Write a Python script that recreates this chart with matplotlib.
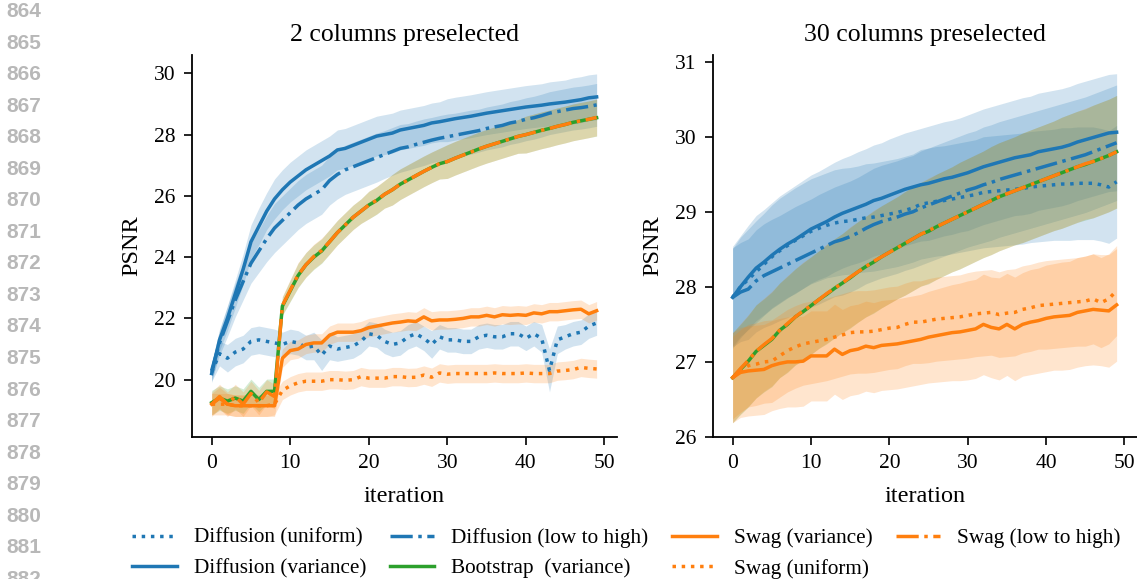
import numpy as np
import matplotlib.pyplot as plt

# ---------------------------
# DATA
# ---------------------------
iters = list(range(50))

# 2 columns preselected
diff_uni_L = [20.25, 20.85, 20.7, 20.9, 21.0, 21.25, 21.3, 21.25, 21.2, 21.15,
              21.25, 21.2, 21.05, 21.1, 20.8, 21.1, 21.0, 21.05, 21.1, 21.25,
              21.5, 21.45, 21.25, 21.15, 21.2, 21.4, 21.5, 21.35, 21.15, 21.4,
              21.3, 21.3, 21.25, 21.25, 21.4, 21.45, 21.4, 21.4, 21.5, 21.5,
              21.35, 21.5, 21.35, 20.3, 21.3, 21.4, 21.5, 21.55, 21.75, 21.85]
diff_var_L = [20.2, 21.3, 22.0, 22.8, 23.6, 24.5, 25.0, 25.5, 25.9, 26.2,
              26.45, 26.65, 26.85, 27.0, 27.15, 27.3, 27.5, 27.55, 27.65, 27.75,
              27.85, 27.95, 28.0, 28.05, 28.15, 28.2, 28.25, 28.3, 28.38, 28.42,
              28.47, 28.52, 28.56, 28.6, 28.65, 28.7, 28.74, 28.78, 28.82, 28.86,
              28.9, 28.93, 28.96, 29.0, 29.03, 29.06, 29.1, 29.14, 29.2, 29.23]
diff_lth_L = [20.3, 21.2, 21.9, 22.6, 23.2, 23.8, 24.2, 24.6, 24.95, 25.2,
              25.45, 25.7, 25.9, 26.05, 26.2, 26.5, 26.7, 26.85, 26.95, 27.05,
              27.15, 27.25, 27.35, 27.45, 27.55, 27.6, 27.68, 27.75, 27.82, 27.88,
              27.93, 27.98, 28.03, 28.08, 28.13, 28.2, 28.25, 28.3, 28.38, 28.43,
              28.5, 28.55, 28.62, 28.7, 28.75, 28.8, 28.85, 28.88, 28.92, 28.97]
boot_var_L = [19.25, 19.4, 19.3, 19.4, 19.3, 19.62, 19.35, 19.62, 19.62, 22.4,
              22.9, 23.4, 23.75, 24.0, 24.2, 24.5, 24.8, 25.05, 25.3, 25.5,
              25.7, 25.85, 26.05, 26.2, 26.38, 26.52, 26.66, 26.8, 26.93, 27.05,
              27.12, 27.23, 27.33, 27.43, 27.53, 27.62, 27.7, 27.78, 27.86, 27.94,
              28.0, 28.07, 28.14, 28.2, 28.27, 28.33, 28.4, 28.45, 28.5, 28.55]
swag_var_L = [19.2, 19.4, 19.2, 19.15, 19.15, 19.15, 19.15, 19.15, 19.15, 20.7,
              20.95, 21.0, 21.15, 21.2, 21.2, 21.45, 21.55, 21.55, 21.55, 21.6,
              21.7, 21.75, 21.8, 21.85, 21.88, 21.92, 21.9, 22.05, 21.92, 21.95,
              21.95, 21.97, 22.0, 22.05, 22.05, 22.1, 22.05, 22.12, 22.1, 22.12,
              22.1, 22.18, 22.15, 22.22, 22.22, 22.25, 22.28, 22.3, 22.15, 22.25]
swag_uni_L = [19.2, 19.2, 19.2, 19.15, 19.15, 19.15, 19.15, 19.15, 19.2, 19.65,
              19.8, 19.9, 19.95, 19.95, 19.95, 20.0, 20.0, 19.98, 20.0, 20.1,
              20.05, 20.05, 20.05, 20.1, 20.1, 20.07, 20.08, 20.15, 20.08, 20.22,
              20.18, 20.2, 20.2, 20.2, 20.2, 20.2, 20.22, 20.2, 20.2, 20.2,
              20.22, 20.2, 20.2, 20.2, 20.28, 20.3, 20.33, 20.4, 20.37, 20.35]
swag_lth_L = [19.2, 19.45, 19.2, 19.45, 19.2, 19.55, 19.25, 19.6, 19.45, 22.42,
              22.92, 23.42, 23.75, 24.02, 24.22, 24.5, 24.8, 25.05, 25.3, 25.5,
              25.7, 25.86, 26.05, 26.2, 26.38, 26.52, 26.66, 26.8, 26.93, 27.05,
              27.12, 27.23, 27.33, 27.43, 27.53, 27.62, 27.7, 27.78, 27.86, 27.94,
              28.0, 28.07, 28.14, 28.2, 28.27, 28.33, 28.4, 28.45, 28.5, 28.56]

diff_uni_L_sd = [0.3, 0.4, 0.45, 0.45, 0.45, 0.45, 0.45, 0.45, 0.45, 0.4,
                 0.4, 0.4, 0.4, 0.45, 0.5, 0.45, 0.4, 0.4, 0.4, 0.4,
                 0.4, 0.4, 0.4, 0.4, 0.4, 0.4, 0.4, 0.4, 0.45, 0.4,
                 0.4, 0.4, 0.4, 0.4, 0.4, 0.4, 0.4, 0.4, 0.4, 0.4,
                 0.4, 0.4, 0.45, 0.7, 0.45, 0.4, 0.4, 0.4, 0.4, 0.4]
diff_var_L_sd = [0.3, 0.35, 0.4, 0.45, 0.5, 0.55, 0.6, 0.6, 0.65, 0.65,
                 0.65, 0.65, 0.65, 0.65, 0.65, 0.65, 0.65, 0.65, 0.65, 0.65,
                 0.65, 0.65, 0.65, 0.65, 0.65, 0.65, 0.65, 0.65, 0.65, 0.65,
                 0.7, 0.7, 0.7, 0.7, 0.7, 0.7, 0.7, 0.7, 0.7, 0.7,
                 0.7, 0.7, 0.7, 0.72, 0.72, 0.72, 0.75, 0.75, 0.75, 0.75]
diff_lth_L_sd = [0.3, 0.4, 0.5, 0.55, 0.6, 0.65, 0.7, 0.75, 0.8, 0.8,
                 0.8, 0.8, 0.8, 0.8, 0.8, 0.8, 0.8, 0.8, 0.8, 0.8,
                 0.8, 0.8, 0.78, 0.78, 0.78, 0.76, 0.76, 0.76, 0.74, 0.74,
                 0.74, 0.72, 0.72, 0.72, 0.7, 0.7, 0.7, 0.7, 0.7, 0.7,
                 0.7, 0.7, 0.7, 0.7, 0.7, 0.7, 0.7, 0.7, 0.7, 0.7]
boot_var_L_sd = [0.4, 0.4, 0.4, 0.4, 0.4, 0.4, 0.4, 0.4, 0.4, 0.3,
                 0.35, 0.4, 0.4, 0.4, 0.4, 0.4, 0.4, 0.4, 0.4, 0.4,
                 0.45, 0.45, 0.45, 0.5, 0.5, 0.5, 0.5, 0.5, 0.5, 0.5,
                 0.55, 0.55, 0.55, 0.55, 0.55, 0.55, 0.55, 0.55, 0.55, 0.55,
                 0.6, 0.6, 0.6, 0.6, 0.6, 0.6, 0.6, 0.6, 0.6, 0.6]
swag_var_L_sd = [0.35, 0.35, 0.35, 0.35, 0.35, 0.35, 0.35, 0.35, 0.35, 0.3,
                 0.3, 0.3, 0.3, 0.3, 0.3, 0.3, 0.3, 0.3, 0.3, 0.3,
                 0.3, 0.3, 0.3, 0.3, 0.3, 0.3, 0.3, 0.3, 0.3, 0.3,
                 0.3, 0.3, 0.3, 0.3, 0.3, 0.3, 0.3, 0.3, 0.3, 0.3,
                 0.3, 0.3, 0.3, 0.3, 0.3, 0.3, 0.3, 0.3, 0.3, 0.3]
swag_uni_L_sd = [0.35, 0.35, 0.35, 0.35, 0.35, 0.35, 0.35, 0.35, 0.35, 0.3,
                 0.3, 0.3, 0.3, 0.3, 0.3, 0.3, 0.3, 0.3, 0.3, 0.3,
                 0.3, 0.3, 0.3, 0.3, 0.3, 0.3, 0.3, 0.3, 0.3, 0.3,
                 0.3, 0.3, 0.3, 0.3, 0.3, 0.3, 0.3, 0.3, 0.3, 0.3,
                 0.3, 0.3, 0.3, 0.3, 0.3, 0.3, 0.3, 0.3, 0.3, 0.3]
swag_lth_L_sd = [0.4, 0.4, 0.4, 0.4, 0.4, 0.4, 0.4, 0.4, 0.4, 0.3,
                 0.35, 0.4, 0.4, 0.4, 0.4, 0.4, 0.4, 0.4, 0.4, 0.4,
                 0.45, 0.45, 0.45, 0.5, 0.5, 0.5, 0.5, 0.5, 0.5, 0.5,
                 0.55, 0.55, 0.55, 0.55, 0.55, 0.55, 0.55, 0.55, 0.55, 0.55,
                 0.6, 0.6, 0.6, 0.6, 0.6, 0.6, 0.6, 0.6, 0.6, 0.6]

# 30 columns preselected
diff_uni_R = [27.86, 28.0, 28.1, 28.2, 28.3, 28.4, 28.48, 28.55, 28.62, 28.68,
              28.74, 28.78, 28.82, 28.85, 28.87, 28.88, 28.9, 28.92, 28.93, 28.95,
              28.97, 28.99, 29.02, 29.05, 29.1, 29.12, 29.14, 29.15, 29.17, 29.19,
              29.21, 29.23, 29.26, 29.27, 29.28, 29.29, 29.3, 29.31, 29.33, 29.34,
              29.35, 29.36, 29.37, 29.37, 29.38, 29.38, 29.38, 29.36, 29.33, 29.4]
diff_var_R = [27.86, 28.0, 28.13, 28.25, 28.33, 28.42, 28.5, 28.57, 28.63, 28.7,
              28.77, 28.82, 28.87, 28.93, 28.98, 29.02, 29.06, 29.1, 29.15, 29.18,
              29.22, 29.26, 29.3, 29.33, 29.36, 29.38, 29.41, 29.44, 29.46, 29.49,
              29.52, 29.56, 29.6, 29.63, 29.66, 29.69, 29.72, 29.74, 29.76, 29.8,
              29.82, 29.84, 29.86, 29.89, 29.93, 29.96, 29.99, 30.02, 30.05, 30.06]
diff_lth_R = [27.86, 27.93, 27.97, 28.08, 28.15, 28.2, 28.25, 28.3, 28.35, 28.4,
              28.45, 28.5, 28.55, 28.6, 28.63, 28.67, 28.72, 28.78, 28.83, 28.87,
              28.9, 28.93, 28.97, 29.0, 29.05, 29.09, 29.13, 29.17, 29.21, 29.25,
              29.29, 29.32, 29.36, 29.39, 29.43, 29.46, 29.49, 29.52, 29.55, 29.58,
              29.61, 29.64, 29.67, 29.7, 29.73, 29.76, 29.8, 29.84, 29.88, 29.92]
boot_var_R = [26.79, 26.9, 27.01, 27.14, 27.22, 27.3, 27.42, 27.5, 27.6, 27.67,
              27.75, 27.83, 27.9, 27.98, 28.05, 28.12, 28.2, 28.27, 28.33, 28.4,
              28.46, 28.52, 28.58, 28.64, 28.7, 28.74, 28.8, 28.85, 28.9, 28.95,
              29.0, 29.05, 29.1, 29.15, 29.2, 29.24, 29.28, 29.32, 29.36, 29.4,
              29.44, 29.48, 29.52, 29.56, 29.6, 29.63, 29.67, 29.71, 29.75, 29.8]
swag_var_R = [26.79, 26.86, 26.88, 26.89, 26.9, 26.95, 26.98, 27.0, 27.0, 27.01,
              27.08, 27.08, 27.08, 27.17, 27.1, 27.15, 27.17, 27.21, 27.19, 27.22,
              27.23, 27.24, 27.26, 27.28, 27.3, 27.33, 27.35, 27.37, 27.39, 27.4,
              27.42, 27.44, 27.5, 27.46, 27.44, 27.5, 27.44, 27.5, 27.53, 27.55,
              27.58, 27.6, 27.61, 27.62, 27.66, 27.68, 27.7, 27.69, 27.68, 27.76]
swag_uni_R = [26.79, 26.88, 26.95, 26.97, 27.0, 27.01, 27.08, 27.15, 27.2, 27.24,
              27.26, 27.28, 27.3, 27.33, 27.36, 27.39, 27.4, 27.4, 27.41, 27.43,
              27.45, 27.46, 27.5, 27.53, 27.53, 27.55, 27.57, 27.58, 27.59, 27.6,
              27.62, 27.64, 27.65, 27.66, 27.63, 27.65, 27.66, 27.7, 27.72, 27.75,
              27.76, 27.77, 27.78, 27.79, 27.8, 27.81, 27.84, 27.79, 27.84, 27.95]
swag_lth_R = [26.79, 26.91, 27.02, 27.14, 27.23, 27.31, 27.42, 27.51, 27.6, 27.68,
              27.75, 27.83, 27.91, 27.98, 28.05, 28.13, 28.2, 28.27, 28.34, 28.4,
              28.46, 28.52, 28.58, 28.64, 28.7, 28.75, 28.8, 28.85, 28.9, 28.95,
              29.0, 29.05, 29.1, 29.15, 29.2, 29.24, 29.28, 29.32, 29.36, 29.4,
              29.44, 29.48, 29.52, 29.56, 29.6, 29.64, 29.67, 29.71, 29.75, 29.8]

diff_uni_R_sd = [0.65, 0.66, 0.67, 0.68, 0.68, 0.69, 0.7, 0.7, 0.7, 0.7,
                 0.7, 0.7, 0.7, 0.71, 0.71, 0.71, 0.71, 0.72, 0.72, 0.72,
                 0.72, 0.72, 0.72, 0.72, 0.73, 0.73, 0.73, 0.73, 0.73, 0.73,
                 0.73, 0.73, 0.74, 0.74, 0.74, 0.74, 0.74, 0.74, 0.74, 0.74,
                 0.74, 0.74, 0.75, 0.75, 0.75, 0.75, 0.75, 0.75, 0.75, 0.75]
diff_var_R_sd = [0.68, 0.68, 0.69, 0.7, 0.7, 0.7, 0.71, 0.71, 0.72, 0.72,
                 0.72, 0.72, 0.73, 0.73, 0.73, 0.73, 0.74, 0.74, 0.74, 0.74,
                 0.75, 0.75, 0.75, 0.75, 0.75, 0.76, 0.76, 0.76, 0.76, 0.76,
                 0.77, 0.77, 0.77, 0.77, 0.77, 0.77, 0.77, 0.78, 0.78, 0.78,
                 0.78, 0.78, 0.78, 0.78, 0.78, 0.78, 0.78, 0.78, 0.78, 0.78]
diff_lth_R_sd = [0.66, 0.66, 0.67, 0.68, 0.69, 0.7, 0.7, 0.71, 0.72, 0.72,
                 0.72, 0.73, 0.73, 0.73, 0.74, 0.74, 0.74, 0.74, 0.75, 0.75,
                 0.75, 0.75, 0.75, 0.75, 0.76, 0.76, 0.76, 0.76, 0.76, 0.76,
                 0.76, 0.76, 0.77, 0.77, 0.77, 0.77, 0.77, 0.77, 0.77, 0.77,
                 0.77, 0.77, 0.77, 0.77, 0.77, 0.77, 0.77, 0.77, 0.77, 0.77]
boot_var_R_sd = [0.6, 0.6, 0.61, 0.62, 0.62, 0.63, 0.63, 0.64, 0.64, 0.65,
                 0.65, 0.65, 0.66, 0.66, 0.66, 0.67, 0.67, 0.67, 0.68, 0.68,
                 0.68, 0.68, 0.69, 0.69, 0.69, 0.7, 0.7, 0.7, 0.7, 0.71,
                 0.71, 0.71, 0.71, 0.72, 0.72, 0.72, 0.72, 0.73, 0.73, 0.73,
                 0.73, 0.73, 0.74, 0.74, 0.74, 0.74, 0.75, 0.75, 0.75, 0.75]
swag_var_R_sd = [0.6, 0.6, 0.6, 0.6, 0.6, 0.6, 0.6, 0.6, 0.6, 0.6,
                 0.6, 0.6, 0.6, 0.6, 0.6, 0.6, 0.6, 0.6, 0.6, 0.6,
                 0.6, 0.6, 0.6, 0.6, 0.6, 0.61, 0.62, 0.63, 0.64, 0.65,
                 0.66, 0.66, 0.67, 0.67, 0.68, 0.68, 0.69, 0.69, 0.7, 0.7,
                 0.71, 0.71, 0.72, 0.72, 0.73, 0.73, 0.74, 0.74, 0.75, 0.75]
swag_uni_R_sd = [0.55, 0.55, 0.55, 0.55, 0.55, 0.55, 0.55, 0.55, 0.55, 0.55,
                 0.55, 0.55, 0.55, 0.55, 0.55, 0.55, 0.55, 0.55, 0.55, 0.55,
                 0.55, 0.55, 0.55, 0.55, 0.55, 0.56, 0.56, 0.56, 0.56, 0.56,
                 0.57, 0.57, 0.57, 0.57, 0.57, 0.58, 0.58, 0.58, 0.58, 0.58,
                 0.59, 0.59, 0.59, 0.59, 0.59, 0.6, 0.6, 0.6, 0.6, 0.6]
swag_lth_R_sd = [0.6, 0.6, 0.61, 0.62, 0.62, 0.63, 0.63, 0.64, 0.64, 0.65,
                 0.65, 0.65, 0.66, 0.66, 0.66, 0.67, 0.67, 0.67, 0.68, 0.68,
                 0.68, 0.68, 0.69, 0.69, 0.69, 0.7, 0.7, 0.7, 0.7, 0.71,
                 0.71, 0.71, 0.71, 0.72, 0.72, 0.72, 0.72, 0.73, 0.73, 0.73,
                 0.73, 0.73, 0.74, 0.74, 0.74, 0.74, 0.75, 0.75, 0.75, 0.75]

labels = ["Diffusion (uniform)", "Diffusion (variance)", "Diffusion (low to high)",
          "Bootstrap  (variance)", "Swag (variance)", "Swag (uniform)",
          "Swag (low to high)"]
colors = ["#1f77b4", "#1f77b4", "#1f77b4", "#2ca02c", "#ff7f0e", "#ff7f0e", "#ff7f0e"]
styles = [":", "-", "-.", "-", "-", ":", "-."]

panels = [
    ("2 columns preselected",
     [diff_uni_L, diff_var_L, diff_lth_L, boot_var_L, swag_var_L, swag_uni_L, swag_lth_L],
     [diff_uni_L_sd, diff_var_L_sd, diff_lth_L_sd, boot_var_L_sd, swag_var_L_sd,
      swag_uni_L_sd, swag_lth_L_sd],
     (18.13, 30.6), [20, 22, 24, 26, 28, 30]),
    ("30 columns preselected",
     [diff_uni_R, diff_var_R, diff_lth_R, boot_var_R, swag_var_R, swag_uni_R, swag_lth_R],
     [diff_uni_R_sd, diff_var_R_sd, diff_lth_R_sd, boot_var_R_sd, swag_var_R_sd,
      swag_uni_R_sd, swag_lth_R_sd],
     (26.0, 31.09), [26, 27, 28, 29, 30, 31]),
]

# ---------------------------
# PLOT
# ---------------------------
plt.rcParams["font.family"] = ["Liberation Serif", "DejaVu Serif"]

fig = plt.figure(figsize=(11.37, 5.79), dpi=100)
rects = [[0.1689, 0.2453, 0.3738, 0.6598], [0.6271, 0.2453, 0.3729, 0.6598]]

handles = []
for rect, (title, means, sds, ylim, yticks) in zip(rects, panels):
    ax = fig.add_axes(rect)
    x = np.array(iters)
    for m, s, c in zip(means, sds, colors):
        m = np.array(m)
        s = np.array(s)
        ax.fill_between(x, m - s, m + s, color=c, alpha=0.2, linewidth=0, zorder=1)
    hs = []
    for m, c, ls, lab in zip(means, colors, styles, labels):
        h, = ax.plot(x, m, color=c, linestyle=ls, linewidth=2.5, label=lab, zorder=2)
        hs.append(h)
    handles = hs
    ax.set_xlim(-2.5, 51.6)
    ax.set_ylim(*ylim)
    ax.set_xticks([0, 10, 20, 30, 40, 50])
    ax.set_yticks(yticks)
    ax.set_title(title, fontsize=18.5, pad=10)
    ax.set_xlabel("iteration", fontsize=17.5, labelpad=9.5)
    ax.set_ylabel("PSNR", fontsize=17.5, labelpad=8)
    ax.spines["top"].set_visible(False)
    ax.spines["right"].set_visible(False)
    for sp in ["left", "bottom"]:
        ax.spines[sp].set_linewidth(1.3)
    ax.tick_params(labelsize=15.5, length=6, width=1.2, pad=6)

fig.legend(handles=handles, loc="upper center", bbox_to_anchor=(0.551, 0.121),
           ncol=4, frameon=False, fontsize=15.3, handlelength=2.1,
           handletextpad=0.8, columnspacing=1.1, labelspacing=0.5)

# review line numbers on the left margin
for k, num in enumerate(range(864, 883)):
    ypix = 11.5 + 31.55 * k
    fig.text(6 / 1137, 1 - ypix / 579, str(num), ha="left", va="center",
             fontsize=15, fontweight="bold", color="#b8b8b8",
             family=["Liberation Sans", "DejaVu Sans"])

fig.savefig("out.png", dpi=100)
